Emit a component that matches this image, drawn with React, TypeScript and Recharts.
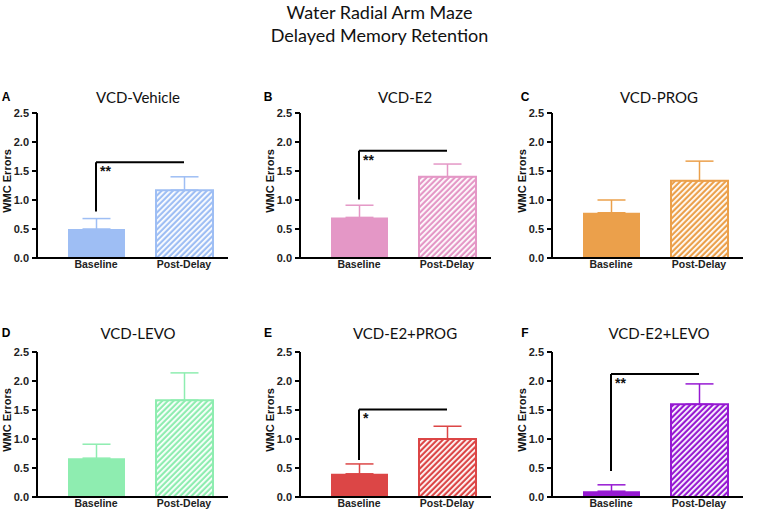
import React from 'react';
import { BarChart, Bar, XAxis, YAxis, Cell, ErrorBar, ReferenceLine } from 'recharts';

// groups / bars
const categories = ['Baseline', 'Post-Delay'];
const panelLetters = ['A', 'B', 'C', 'D', 'E', 'F'];
const panelTitles = ['VCD-Vehicle', 'VCD-E2', 'VCD-PROG', 'VCD-LEVO', 'VCD-E2+PROG', 'VCD-E2+LEVO'];

// mean WMC errors and SEM per panel
const baselineMeans = [0.5, 0.7, 0.78, 0.67, 0.4, 0.1];
const baselineErrors = [0.18, 0.21, 0.22, 0.24, 0.17, 0.11];
const postDelayMeans = [1.17, 1.4, 1.33, 1.67, 1.0, 1.6];
const postDelayErrors = [0.23, 0.22, 0.34, 0.47, 0.22, 0.35];

// significance brackets (null = none)
const bracketTops = [1.65, 1.85, null, null, 1.51, 2.12];
const bracketBottoms = [0.8, 1.01, null, null, 0.64, 0.45];
const significance = ['**', '**', '', '', '*', '**'];

const yTicks = [0, 0.5, 1.0, 1.5, 2.0, 2.5];

const panelColors = ['#9ebef4', '#e497c6', '#eba04b', '#8eedb0', '#dc4646', '#9619d2'];

// layout
const columnAxisX = [37, 300, 552];
const rowPlotTop = [113, 352];
const columnTitleX = [138, 405, 659];
const rowTitleY = [97, 333];
const columnLetterX = [6, 268, 525];
const Y_AXIS_W = 37;
const MARGIN_TOP = 8;
const PLOT_H = 145;
const X_AXIS_H = 22;
const CHART_W = 232;
const CHART_H = MARGIN_TOP + PLOT_H + X_AXIS_H;

const sans = '"Liberation Sans", Arial, sans-serif';
const titleFont = 'Lato, "Open Sans", sans-serif';

const centered: React.CSSProperties = {
  position: 'absolute',
  whiteSpace: 'nowrap',
  transform: 'translate(-50%, -50%)',
};

function Panel({ index }: { index: number }) {
  const col = index % 3;
  const row = Math.floor(index / 3);
  const color = panelColors[index];
  const patternId = `hatch-${index}`;
  const data = categories.map((name, i) => ({
    name,
    value: i === 0 ? baselineMeans[index] : postDelayMeans[index],
    err: [0, i === 0 ? baselineErrors[index] : postDelayErrors[index]],
  }));
  const top = bracketTops[index];
  const bottom = bracketBottoms[index];
  const stars = significance[index];

  return (
    <>
      <div
        style={{
          ...centered,
          left: columnLetterX[col],
          top: rowTitleY[row],
          fontFamily: sans,
          fontWeight: 700,
          fontSize: 12,
        }}
      >
        {panelLetters[index]}
      </div>
      <div
        style={{
          ...centered,
          left: columnTitleX[col],
          top: rowTitleY[row],
          fontFamily: titleFont,
          fontSize: 15,
          color: '#111',
        }}
      >
        {panelTitles[index]}
      </div>
      <div
        style={{
          ...centered,
          left: columnAxisX[col] - 30,
          top: rowPlotTop[row] + PLOT_H / 2 - 5,
          transform: 'translate(-50%, -50%) rotate(-90deg)',
          fontFamily: sans,
          fontWeight: 700,
          fontSize: 11,
          lineHeight: '12px',
          color: '#111',
        }}
      >
        WMC Errors
      </div>
      <div
        style={{
          position: 'absolute',
          left: columnAxisX[col] - Y_AXIS_W,
          top: rowPlotTop[row] - MARGIN_TOP,
        }}
      >
        <BarChart
          width={CHART_W}
          height={CHART_H}
          data={data}
          margin={{ top: MARGIN_TOP, right: 4, bottom: 0, left: 0 }}
        >
          <defs>
            <pattern
              id={patternId}
              width={4}
              height={4}
              patternUnits="userSpaceOnUse"
              patternTransform="rotate(45)"
            >
              <rect width={4} height={4} fill={color} />
              <rect width={1.8} height={4} fill="#fff" />
            </pattern>
          </defs>
          <XAxis
            dataKey="name"
            interval={0}
            height={X_AXIS_H}
            padding={{ left: 15, right: 0 }}
            tickLine={false}
            tickSize={1}
            tickMargin={2}
            axisLine={{ stroke: '#000', strokeWidth: 2 }}
            tick={{ fontSize: 10.5, fontWeight: 700, fill: '#222', fontFamily: sans }}
          />
          <YAxis
            width={Y_AXIS_W}
            domain={[0, 2.5]}
            ticks={yTicks}
            allowDataOverflow
            tickFormatter={(v: number) => v.toFixed(1)}
            tickSize={5}
            tickMargin={3}
            tickLine={{ stroke: '#000', strokeWidth: 2 }}
            axisLine={{ stroke: '#000', strokeWidth: 2 }}
            tick={{ fontSize: 11, fontWeight: 700, fill: '#222', fontFamily: sans }}
          />
          <Bar dataKey="value" barSize={57} isAnimationActive={false}>
            {data.map((d, i) =>
              i === 0 ? (
                <Cell key={d.name} fill={color} />
              ) : (
                <Cell key={d.name} fill={`url(#${patternId})`} stroke={color} strokeWidth={2} />
              )
            )}
            <ErrorBar dataKey="err" width={14} strokeWidth={1.5} stroke={color} direction="y" isAnimationActive={false} />
          </Bar>
          {top != null && bottom != null && (
            <ReferenceLine
              segment={[
                { x: 'Baseline', y: bottom },
                { x: 'Baseline', y: top },
              ]}
              stroke="#000"
              strokeWidth={2}
            />
          )}
          {top != null && (
            <ReferenceLine
              segment={[
                { x: 'Baseline', y: top },
                { x: 'Post-Delay', y: top },
              ]}
              stroke="#000"
              strokeWidth={2}
              label={{
                content: (p: any) => (
                  <text
                    x={(p.viewBox?.x ?? 0) + 4}
                    y={(p.viewBox?.y ?? 0) + 14}
                    fontSize={14}
                    fontWeight={700}
                    fontFamily={sans}
                    fill="#111"
                  >
                    {stars}
                  </text>
                ),
              }}
            />
          )}
        </BarChart>
      </div>
    </>
  );
}

export default function App() {
  return (
    <div style={{ position: 'absolute', left: 0, top: 0, width: 759, height: 510, background: '#fff' }}>
      <div
        style={{
          position: 'absolute',
          left: 0,
          top: 1,
          width: 759,
          textAlign: 'center',
          fontFamily: titleFont,
          fontSize: 18,
          lineHeight: '23px',
          color: '#111',
        }}
      >
        Water Radial Arm Maze
        <br />
        Delayed Memory Retention
      </div>
      {panelTitles.map((_, i) => (
        <Panel key={i} index={i} />
      ))}
    </div>
  );
}
